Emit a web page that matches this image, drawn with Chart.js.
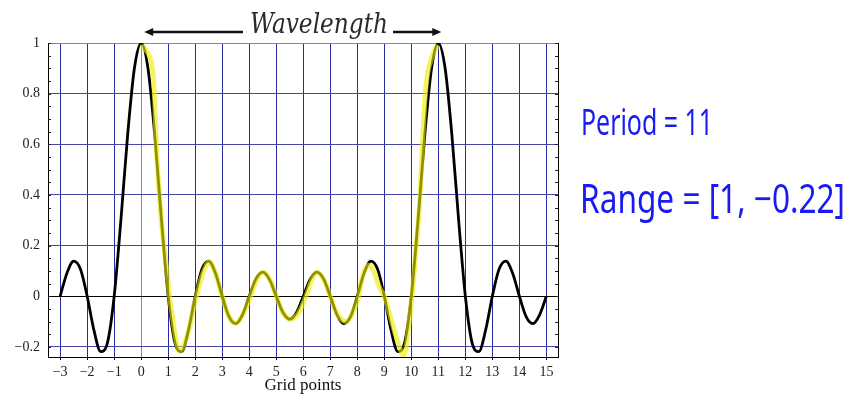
<!DOCTYPE html>
<html>
<head>
<meta charset="utf-8">
<script src="https://cdn.jsdelivr.net/npm/chart.js@4.4.1/dist/chart.umd.min.js"></script>
<style>
  html, body { margin: 0; padding: 0; background: #fff; }
  canvas { display: block; }
</style>
</head>
<body>
<canvas id="c" width="850" height="394"></canvas>
<script>
// ---- data ----
const xTicks = [-3,-2,-1,0,1,2,3,4,5,6,7,8,9,10,11,12,13,14,15];
const yTicks = [-0.2,0,0.2,0.4,0.6,0.8,1];
const yMinorTicks = [-0.2,-0.15,-0.1,-0.05,0,0.05,0.1,0.15,0.2,0.25,0.3,0.35,0.4,0.45,0.5,0.55,0.6,0.65,0.7,0.75,0.8,0.85,0.9,0.95,1];

const blackX = [-3,-2.75,-2.5,-2.25,-2,-1.75,-1.5,-1.25,-1,-0.75,-0.5,-0.25,
  0,0.25,0.5,0.75,1,1.25,1.5,1.75,2,2.25,2.5,2.75,3,3.25,3.5,3.75,4,4.25,4.5,4.75,
  5,5.25,5.5,5.75,6,6.25,6.5,6.75,7,7.25,7.5,7.75,8,8.25,8.5,8.75,9,9.25,9.5,9.75,
  10,10.25,10.5,10.75,11,11.25,11.5,11.75,12,12.25,12.5,12.75,13,13.25,13.5,13.75,
  14,14.25,14.5,14.75,15];
const blackY = [0,0.0909,0.1388,0.1073,0,-0.1341,-0.2188,-0.1840,0,0.3024,0.6388,0.9011,
  1,0.9011,0.6388,0.3024,0,-0.1840,-0.2188,-0.1341,0,0.1073,0.1388,0.0909,0,-0.0803,-0.1081,-0.0732,0,0.0686,0.0948,0.0658,
  0,-0.0645,-0.0909,-0.0645,0,0.0658,0.0948,0.0686,0,-0.0732,-0.1081,-0.0803,0,0.0909,0.1388,0.1073,0,-0.1341,-0.2188,-0.1840,
  0,0.3024,0.6388,0.9011,1,0.9011,0.6388,0.3024,0,-0.1840,-0.2188,-0.1341,0,0.1073,0.1388,0.0909,
  0,-0.0803,-0.1081,-0.0732,0];

const yellowX = [0,0.15,0.3,0.4,0.46,0.5,0.55,0.62,0.7,0.8,0.93,1.05,1.17,1.3,1.42,1.55,1.75,1.95,2.05,2.25,2.4,2.53,
  2.75,3,3.25,3.5,3.75,4.05,4.25,4.5,4.75,5,5.25,5.5,5.8,6.1,6.3,6.5,6.75,7,7.25,7.6,7.85,8.05,8.2,8.4,8.6,8.8,
  9,9.3,9.5,9.72,9.9,10.06,10.2,10.31,10.43,10.52,10.62,10.75,10.88,11];
const yellowY = [0.99,0.975,0.95,0.91,0.85,0.78,0.62,0.48,0.36,0.24,0.12,0,-0.09,-0.18,-0.218,-0.2,-0.14,-0.04,0,0.08,0.12,0.135,
  0.09,0,-0.08,-0.107,-0.075,0,0.06,0.095,0.068,0,-0.065,-0.09,-0.07,0,0.06,0.095,0.068,0,-0.07,-0.1,-0.06,0,0.08,0.122,0.1,0.04,
  0,-0.11,-0.18,-0.235,-0.12,0.04,0.22,0.37,0.63,0.8,0.89,0.94,0.975,0.99];

const xAxisTitle = 'Grid points';
const noteTop = 'Wavelength';
const notePeriod = 'Period = 11';
const noteRange = 'Range = [1, \u22120.22]';

// ---- helpers ----
function fmt(v) {
  if (v === 0) return '0';
  return v < 0 ? '\u2212' + String(Math.abs(v)) : String(v);
}
function fitText(ctx, text, x, y, w, font, color) {
  ctx.save();
  ctx.font = font;
  ctx.fillStyle = color;
  ctx.textBaseline = 'alphabetic';
  ctx.textAlign = 'left';
  const m = ctx.measureText(text).width;
  ctx.translate(x, y);
  ctx.scale(w / m, 1);
  ctx.fillText(text, 0, 0);
  ctx.restore();
}

const framePlugin = {
  id: 'frame',
  beforeDatasetsDraw(chart) {
    const ctx = chart.ctx, a = chart.chartArea, ys = chart.scales.y;
    ctx.save();
    ctx.lineWidth = 1;
    ctx.strokeStyle = '#8a8a8a';
    ctx.beginPath(); ctx.moveTo(a.left, a.top + 0.5); ctx.lineTo(a.right, a.top + 0.5); ctx.stroke();
    ctx.strokeStyle = '#000';
    ctx.beginPath(); ctx.moveTo(Math.round(a.right) + 0.5, a.top); ctx.lineTo(Math.round(a.right) + 0.5, a.bottom); ctx.stroke();
    ctx.strokeStyle = '#222';
    yMinorTicks.forEach(v => {
      const py = Math.round(ys.getPixelForValue(v)) + 0.5;
      ctx.beginPath(); ctx.moveTo(a.left, py); ctx.lineTo(a.left + 3, py); ctx.stroke();
      ctx.beginPath(); ctx.moveTo(a.right, py); ctx.lineTo(a.right - 3, py); ctx.stroke();
    });
    ctx.restore();
  },
  afterDraw(chart) {
    const ctx = chart.ctx, xs = chart.scales.x;
    const x0 = xs.getPixelForValue(0) + 3;
    const x11 = xs.getPixelForValue(11) + 3;
    const ay = 32;
    ctx.save();
    ctx.strokeStyle = '#111';
    ctx.fillStyle = '#111';
    ctx.lineWidth = 2.4;
    ctx.beginPath(); ctx.moveTo(x0 + 6, ay); ctx.lineTo(243, ay); ctx.stroke();
    ctx.beginPath(); ctx.moveTo(393, ay); ctx.lineTo(x11 - 6, ay); ctx.stroke();
    ctx.beginPath(); ctx.moveTo(x0, ay); ctx.lineTo(x0 + 9, ay - 4); ctx.lineTo(x0 + 9, ay + 4); ctx.closePath(); ctx.fill();
    ctx.beginPath(); ctx.moveTo(x11, ay); ctx.lineTo(x11 - 9, ay - 4); ctx.lineTo(x11 - 9, ay + 4); ctx.closePath(); ctx.fill();
    ctx.restore();
    fitText(ctx, noteTop, 250, 33, 138, 'italic 27px "DejaVu Serif"', '#2a2a2a');
    fitText(ctx, notePeriod, 581, 135, 132, '36px "Noto Sans"', '#1a1af5');
    fitText(ctx, noteRange, 580, 213, 265, '40px "Noto Sans"', '#1a1af5');
  }
};

const ctx = document.getElementById('c').getContext('2d');
new Chart(ctx, {
  type: 'scatter',
  data: {
    datasets: [
      {
        data: yellowX.map((x, i) => ({ x, y: yellowY[i] })),
        showLine: true,
        borderColor: 'rgba(238,238,0,0.62)',
        borderWidth: 5,
        pointRadius: 0,
        tension: 0.4,
        order: 0
      },
      {
        data: blackX.map((x, i) => ({ x, y: blackY[i] })),
        showLine: true,
        borderColor: '#000',
        borderWidth: 2.8,
        pointRadius: 0,
        cubicInterpolationMode: 'monotone',
        order: 1
      }
    ]
  },
  options: {
    responsive: false,
    devicePixelRatio: 1,
    animation: false,
    events: [],
    layout: { padding: { left: 0, top: 43, right: 292, bottom: 0 } },
    plugins: { legend: { display: false }, tooltip: { enabled: false } },
    scales: {
      x: {
        type: 'linear',
        min: -3.45,
        max: 15.43,
        afterFit: s => { s.height = 37; },
        afterBuildTicks: s => { s.ticks = xTicks.map(v => ({ value: v })); },
        grid: {
          color: c => (c.tick && c.tick.value === 0) ? '#8c8c8c' : '#2a2aa0',
          lineWidth: 1,
          drawTicks: true,
          tickLength: 3,
          tickColor: '#000'
        },
        border: { display: true, color: '#000', width: 1 },
        ticks: {
          autoSkip: false,
          maxRotation: 0,
          padding: 4,
          color: '#222',
          font: { family: '"Liberation Serif"', size: 14 },
          callback: v => fmt(v)
        },
        title: {
          display: true,
          text: xAxisTitle,
          color: '#111',
          font: { family: '"Liberation Serif"', size: 17 },
          padding: { top: 0, bottom: -2 }
        }
      },
      y: {
        type: 'linear',
        min: -0.24,
        max: 1,
        afterFit: s => { s.width = 48; },
        afterBuildTicks: s => { s.ticks = yTicks.map(v => ({ value: v })); },
        grid: {
          color: c => {
            if (!c.tick) return '#4646a8';
            if (c.tick.value === 0) return '#000';
            if (c.tick.value === 1) return '#8a8a8a';
            return '#4646a8';
          },
          lineWidth: 1,
          drawTicks: false
        },
        border: { display: true, color: '#000', width: 1 },
        ticks: {
          padding: 8,
          color: '#222',
          font: { family: '"Liberation Serif"', size: 14 },
          callback: v => fmt(v)
        }
      }
    }
  },
  plugins: [framePlugin]
});
</script>
</body>
</html>
